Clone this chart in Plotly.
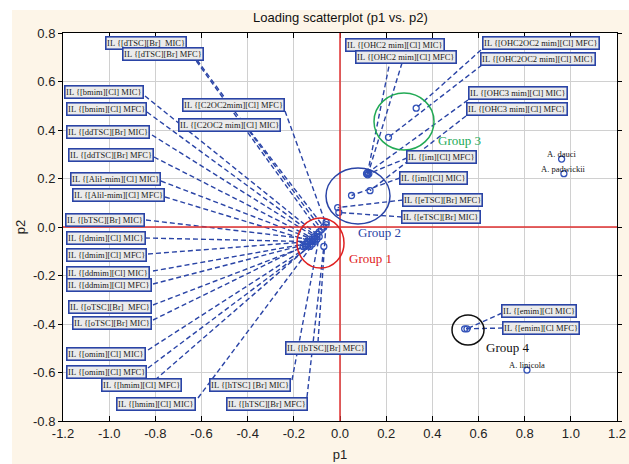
import plotly.graph_objects as go

# ---------------- data (loadings p1, p2) ----------------
il_names = [
    "IL {[dTSC][Br]  MIC}", "IL {[dTSC][Br] MFC}",
    "IL {[bmim][Cl] MIC}", "IL {[bmim][Cl] MFC}",
    "IL {[C2OC2mim][Cl] MFC}", "IL {[C2OC2 mim][Cl] MIC}",
    "IL {[ddTSC][Br] MIC}", "IL {[ddTSC][Br] MFC}",
    "IL {[Alil-mim][Cl] MIC}", "IL {[Alil-mim][Cl] MFC}",
    "IL {[bTSC][Br] MIC}",
    "IL {[dmim][Cl] MIC}", "IL {[dmim][Cl] MFC}",
    "IL {[ddmim][Cl] MIC}", "IL {[ddmim][Cl] MFC}",
    "IL {[oTSC][Br]  MFC}", "IL {[oTSC][Br] MIC}",
    "IL {[omim][Cl] MIC}", "IL {[omim][Cl] MFC}",
    "IL {[hmim][Cl] MFC}", "IL {[hmim][Cl] MIC}",
    "IL {[hTSC] [Br] MIC}", "IL {[hTSC][Br] MFC}",
    "IL {[bTSC][Br] MFC}",
    "IL {[OHC2 mim][Cl] MIC}", "IL {[OHC2 mim][Cl] MFC}",
    "IL {[OHC2OC2 mim][Cl] MFC}", "IL {[OHC2OC2 mim][Cl] MIC}",
    "IL {[OHC3 mim][Cl] MIC}", "IL {[OHC3 mim][Cl] MFC}",
    "IL {[im][Cl] MFC}", "IL {[im][Cl] MIC}",
    "IL {[eTSC][Br] MFC}", "IL {[eTSC][Br] MIC}",
    "IL {[emim][Cl MIC}", "IL {[emim][Cl MFC}",
]
il_p1 = [-0.09, -0.08, -0.10, -0.10, -0.06, -0.07, -0.11, -0.11, -0.12, -0.12,
         -0.13, -0.14, -0.13, -0.15, -0.14, -0.15, -0.16, -0.12, -0.13, -0.11,
         -0.10, -0.09, -0.07, -0.06,
         0.12, 0.12, 0.33, 0.21, 0.115, 0.13, 0.125, 0.05, -0.01, -0.005,
         0.55, 0.54]
il_p2 = [-0.02, -0.01, -0.03, -0.04, 0.01, 0.00, -0.04, -0.05, -0.05, -0.06,
         -0.05, -0.06, -0.06, -0.07, -0.07, -0.08, -0.08, -0.07, -0.08, -0.06,
         -0.05, -0.04, -0.08, 0.02,
         0.225, 0.215, 0.49, 0.37, 0.22, 0.15, 0.22, 0.13, 0.08, 0.06,
         -0.42, -0.42]

species_names = ["A. dauci", "A. padwickii", "A. linicola"]
species_p1 = [0.96, 0.97, 0.81]
species_p2 = [0.28, 0.22, -0.59]

group_names = ["Group 1", "Group 2", "Group 3", "Group 4"]

x_ticks = [-1.2, -1.0, -0.8, -0.6, -0.4, -0.2, 0.0, 0.2, 0.4, 0.6, 0.8, 1.0, 1.2]
y_ticks = [-0.8, -0.6, -0.4, -0.2, 0.0, 0.2, 0.4, 0.6, 0.8]

# ---------------- layout geometry ----------------
W, H = 629, 464
L, R, T, B = 63, 12, 33, 43
XR, YR = (-1.2, 1.2), (-0.8, 0.8)
PW, PH = W - L - R, H - T - B


def px2x(px):
    return XR[0] + (px - L) / PW * (XR[1] - XR[0])


def py2y(py):
    return YR[1] - (py - T) / PH * (YR[1] - YR[0])


# label placement in pixels: (left edge, centre y, anchor x, anchor y)
label_place = [
    (106, 43, 187, 48), (123, 54, 197, 60),
    (65, 92, 145, 96), (67, 109, 147, 112),
    (183, 105, 285, 111), (179, 125, 250, 131),
    (67, 132, 152, 135), (69, 155, 154, 157),
    (71, 179, 161, 181), (73, 195, 165, 197),
    (66, 220, 146, 220),
    (67, 238, 145, 238), (67, 255, 148, 254),
    (67, 273, 153, 271), (67, 285, 153, 284),
    (69, 307, 153, 305), (73, 323, 153, 320),
    (67, 354, 148, 350), (67, 372, 148, 368),
    (102, 385, 155, 380), (117, 404, 198, 398),
    (210, 385, 292, 380), (227, 404, 307, 397),
    (286, 348, 318, 342),
    (346, 45, 392, 51), (356, 57, 402, 63),
    (483, 43, 481, 50), (481, 59, 482, 65),
    (469, 93, 468, 100), (467, 109, 466, 116),
    (407, 157, 407, 158), (400, 178, 400, 178),
    (403, 200, 403, 200), (402, 217, 402, 217),
    (502, 311, 502, 313), (503, 328, 503, 328),
]

BLUE = "#2a44a6"
fig = go.Figure()

# leader lines
lx, ly = [], []
for (lp, cy, ax, ay), x, y in zip(label_place, il_p1, il_p2):
    lx += [px2x(ax), x, None]
    ly += [py2y(ay), y, None]
fig.add_trace(go.Scatter(x=lx, y=ly, mode="lines",
                         line=dict(color=BLUE, width=1.4, dash="5px,3px"),
                         hoverinfo="skip", showlegend=False))

# points
fig.add_trace(go.Scatter(x=il_p1 + species_p1, y=il_p2 + species_p2, mode="markers",
                         marker=dict(symbol="circle-open", size=6, color="#3050b8",
                                     line=dict(width=1.3)),
                         showlegend=False))

annotations = []
for name, (lp, cy, ax, ay) in zip(il_names, label_place):
    annotations.append(dict(
        x=px2x(lp), y=py2y(cy), xref="x", yref="y", text=name, showarrow=False,
        xanchor="left", yanchor="middle", xshift=-1,
        font=dict(family="Liberation Serif", size=8.5, color="#1a1a1a"),
        bgcolor="#ebebeb", bordercolor=BLUE, borderwidth=1.6, borderpad=0.5))

for name, x, y in zip(species_names, species_p1, species_p2):
    annotations.append(dict(x=x, y=y, xref="x", yref="y", text=name, showarrow=False,
                            xanchor="center", yanchor="middle", yshift=5,
                            font=dict(family="Liberation Serif", size=8.5, color="#111111")))

# group labels (pixel placement)
group_place = [(370, 258, "#e02020"), (379, 232, "#2a44a6"),
               (459, 140, "#22aa55"), (507, 347, "#111111")]
for name, (gx, gy, col) in zip(group_names, group_place):
    annotations.append(dict(x=px2x(gx), y=py2y(gy), xref="x", yref="y", text=name,
                            showarrow=False, xanchor="center", yanchor="middle",
                            font=dict(family="Liberation Serif", size=13, color=col)))

annotations.append(dict(x=0.5, y=1, xref="paper", yref="paper", yshift=16,
                        text="Loading scatterplot (p1 vs. p2)",
                        showarrow=False, xanchor="center", yanchor="middle",
                        font=dict(family="Liberation Sans", size=13, color="#111111")))

shapes = [
    # white strips outside the beige panel (left and top)
    dict(type="rect", xref="paper", yref="paper", x0=-L / PW - 0.01, x1=(12 - L) / PW,
         y0=-B / PH - 0.01, y1=1 + T / PH + 0.01, fillcolor="white", line=dict(width=0), layer="above"),
    dict(type="rect", xref="paper", yref="paper", x0=-L / PW - 0.01, x1=1 + R / PW + 0.01,
         y0=1 + (T - 10) / PH, y1=1 + T / PH + 0.01, fillcolor="white", line=dict(width=0), layer="above"),
    # zero lines
    dict(type="line", xref="x", yref="y", x0=0, x1=0, y0=YR[0], y1=YR[1],
         line=dict(color="#e03030", width=1.5)),
    dict(type="line", xref="x", yref="y", x0=XR[0], x1=XR[1], y0=0, y1=0,
         line=dict(color="#e03030", width=1.5)),
    # group circles (pixel extents)
    dict(type="circle", xref="x", yref="y", x0=px2x(297), x1=px2x(344), y0=py2y(268), y1=py2y(218),
         line=dict(color="#e02020", width=1.5)),
    dict(type="circle", xref="x", yref="y", x0=px2x(326), x1=px2x(390), y0=py2y(224), y1=py2y(168),
         line=dict(color="#2a44a6", width=1.5)),
    dict(type="circle", xref="x", yref="y", x0=px2x(374), x1=px2x(434), y0=py2y(150), y1=py2y(93),
         line=dict(color="#22aa55", width=1.5)),
    dict(type="circle", xref="x", yref="y", x0=px2x(452), x1=px2x(484), y0=py2y(345), y1=py2y(315),
         line=dict(color="#111111", width=1.5)),
]

fig.update_layout(
    width=W, height=H, margin=dict(l=L, r=R, t=T, b=B, autoexpand=False),
    paper_bgcolor="#fdf5e8", plot_bgcolor="white",
    annotations=annotations, shapes=shapes, showlegend=False,
    xaxis=dict(range=list(XR), tickvals=x_ticks, ticktext=[f"{v:.1f}" for v in x_ticks],
               automargin=False,
               showgrid=True, gridcolor="#d0d0d0", zeroline=False, showline=True,
               linecolor="black", linewidth=1, mirror="ticks", ticks="inside", ticklen=5,
               tickcolor="black", tickfont=dict(family="Liberation Sans", size=13, color="#222222"),
               title=dict(text="p1", font=dict(family="Liberation Sans", size=13, color="#222222"),
                          standoff=10)),
    yaxis=dict(range=list(YR), tickvals=y_ticks, ticktext=[f"{v:.1f}" for v in y_ticks],
               automargin=False,
               showgrid=True, gridcolor="#d0d0d0", zeroline=False, showline=True,
               linecolor="black", linewidth=1, mirror="ticks", ticks="outside", ticklen=4,
               tickcolor="black", tickfont=dict(family="Liberation Sans", size=13, color="#222222"),
               title=dict(text="p2", font=dict(family="Liberation Sans", size=13, color="#222222"),
                          standoff=4)),
)

fig.write_html("out.html", config={"displayModeBar": False},
               post_script="document.body.style.margin='0';")
